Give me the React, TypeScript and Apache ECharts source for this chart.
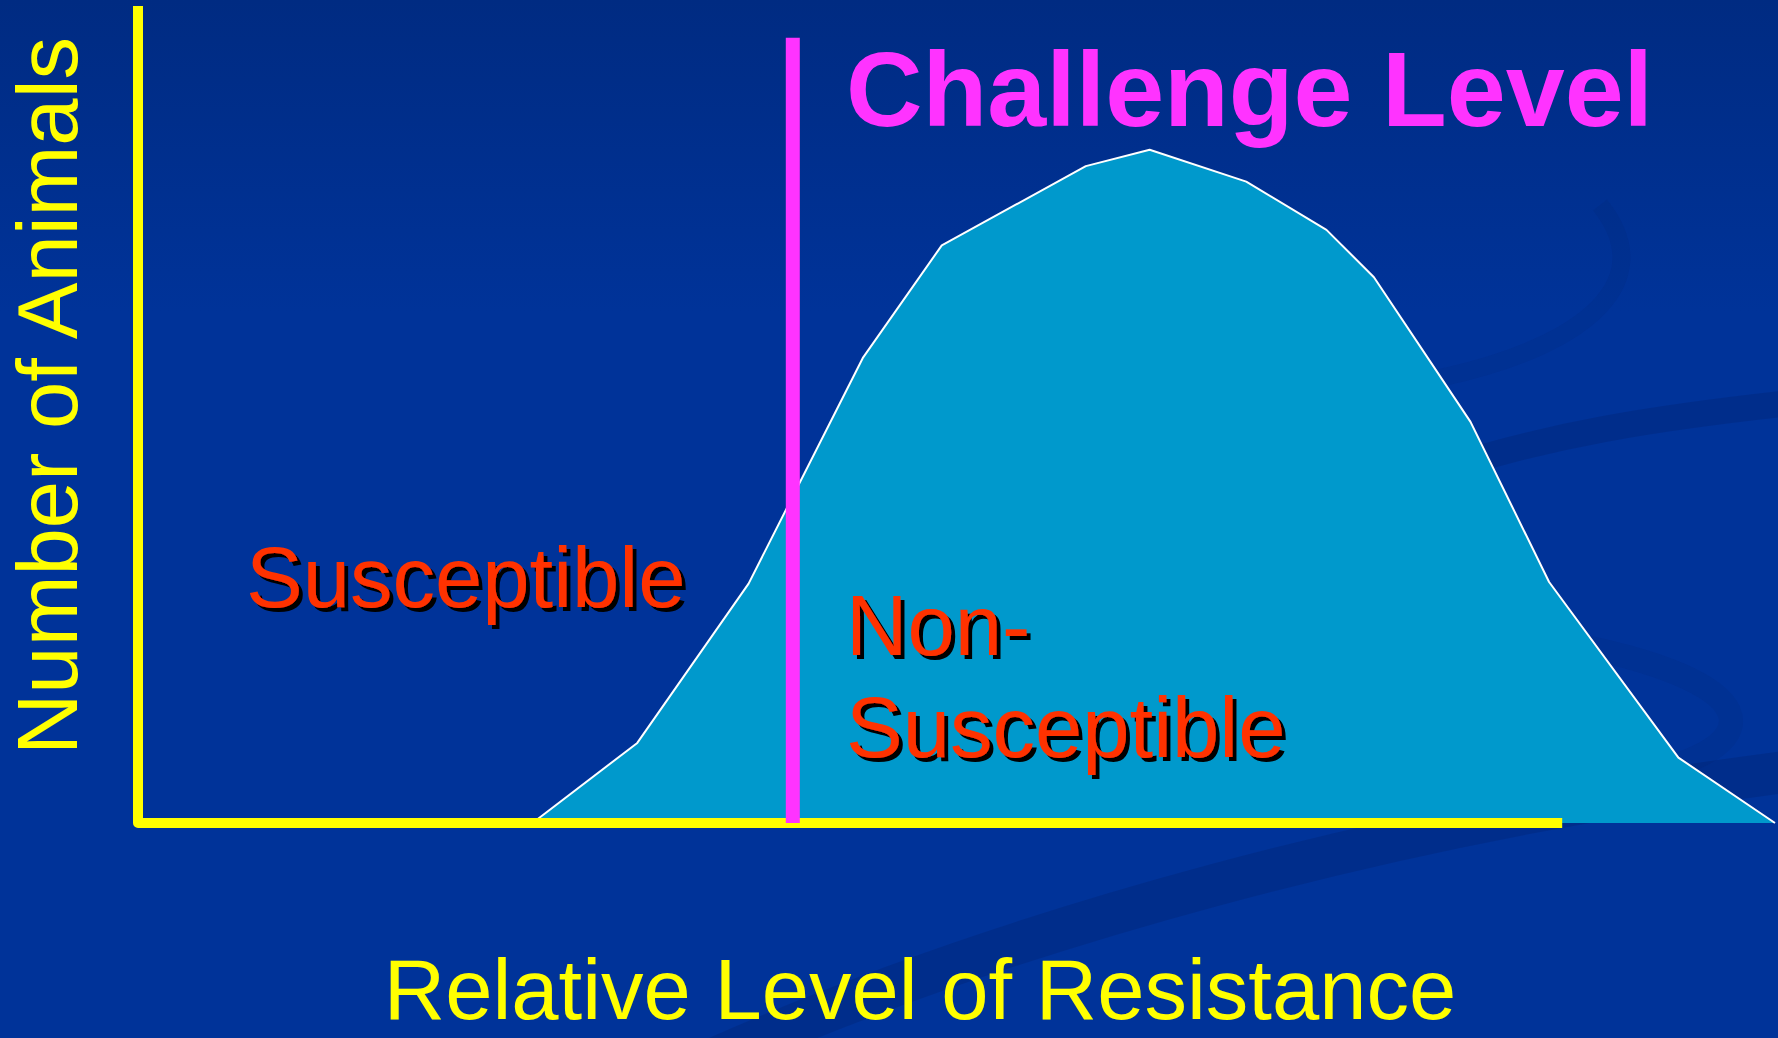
import React, { useEffect, useRef } from "react";
import * as echarts from "echarts";

// Distribution of resistance (x: relative level 0-100, y: number of animals 0-100)
const resistanceX = [24.1, 30.5, 37.3, 44.3, 49.1, 57.9, 61.8, 67.7, 72.6, 75.5, 81.4, 86.2, 94.1, 100];
const animalCounts = [0, 9.8, 29.3, 57.0, 70.7, 80.4, 82.4, 78.5, 72.6, 66.8, 49.1, 29.5, 8.0, 0];

// Axis frame (drawn in data units)
const axisFrame = [[0, 100], [0, 0], [87, 0]];
// Challenge level threshold
const challengeLevel = 40;
const challengeTop = 96.1;

const titleText = "Challenge Level";
const xAxisTitle = "Relative Level of Resistance";
const yAxisTitle = "Number of Animals";
const leftLabel = "Susceptible";
const rightLabel = ["Non-", "Susceptible"];

const FONT = "'Liberation Sans', Arial, Helvetica, sans-serif";

export default function App() {
  const ref = useRef<HTMLDivElement>(null);

  useEffect(() => {
    if (!ref.current) return;
    const chart = echarts.init(ref.current, undefined, { renderer: "svg" });

    const redStyle = {
      fill: "#FF3300",
      font: `85px ${FONT}`,
      textAlign: "left",
      verticalAlign: "middle",
      textShadowColor: "#000000",
      textShadowOffsetX: 4,
      textShadowOffsetY: 4,
      textShadowBlur: 0.5,
    };

    const swoosh = "rgba(0,20,80,0.18)";
    const swooshFaint = "rgba(0,20,80,0.08)";

    chart.setOption({
      animation: false,
      backgroundColor: {
        type: "linear",
        x: 0, y: 0, x2: 0, y2: 1,
        colorStops: [
          { offset: 0, color: "#002B82" },
          { offset: 0.3, color: "#003399" },
          { offset: 1, color: "#003399" },
        ],
      },
      grid: { left: 138, right: 3, top: 6, bottom: 215, containLabel: false },
      xAxis: { type: "value", min: 0, max: 100, show: false },
      yAxis: { type: "value", min: 0, max: 100, show: false },
      series: [
        {
          type: "line",
          data: resistanceX.map((x, i) => [x, animalCounts[i]]),
          symbol: "none",
          clip: false,
          z: 2,
          lineStyle: { color: "#FFFFFF", width: 2 },
          areaStyle: { color: "#0099CC", opacity: 1 },
        },
        {
          type: "line",
          data: axisFrame,
          symbol: "none",
          clip: false,
          z: 3,
          lineStyle: { color: "#FFFF00", width: 10, join: "round", cap: "butt" },
        },
        {
          type: "line",
          data: [[challengeLevel, 0], [challengeLevel, challengeTop]],
          symbol: "none",
          clip: false,
          z: 4,
          lineStyle: { color: "#FF33FF", width: 14, cap: "butt" },
        },
      ],
      graphic: [
        {
          type: "bezierCurve", z: 0, silent: true,
          shape: { x1: 700, y1: 1065, cpx1: 1000, cpy1: 930, cpx2: 1400, cpy2: 820, x2: 1800, y2: 770 },
          style: { stroke: swoosh, lineWidth: 42, fill: null },
        },
        {
          type: "bezierCurve", z: 0, silent: true,
          shape: { x1: 1440, y1: 470, cpx1: 1550, cpy1: 435, cpx2: 1650, cpy2: 418, x2: 1800, y2: 402 },
          style: { stroke: swoosh, lineWidth: 26, fill: null },
        },
        {
          type: "bezierCurve", z: 0, silent: true,
          shape: { x1: 1440, y1: 378, cpx1: 1590, cpy1: 345, cpx2: 1660, cpy2: 280, x2: 1600, y2: 205 },
          style: { stroke: swooshFaint, lineWidth: 18, fill: null },
        },
        {
          type: "bezierCurve", z: 0, silent: true,
          shape: { x1: 1560, y1: 642, cpx1: 1770, cpy1: 680, cpx2: 1770, cpy2: 745, x2: 1650, y2: 772 },
          style: { stroke: swooshFaint, lineWidth: 24, fill: null },
        },
        {
          type: "text", z: 100, x: 846, y: 89,
          style: {
            text: titleText,
            fill: "#FF33FF",
            font: `bold 106px ${FONT}`,
            textAlign: "left",
            verticalAlign: "middle",
          },
        },
        { type: "text", z: 100, x: 246, y: 577, style: { ...redStyle, text: leftLabel } },
        { type: "text", z: 100, x: 846, y: 625, style: { ...redStyle, text: rightLabel[0] } },
        { type: "text", z: 100, x: 846, y: 727, style: { ...redStyle, text: rightLabel[1] } },
        {
          type: "text", z: 100, x: 920, y: 989,
          style: {
            text: xAxisTitle,
            fill: "#FFFF00",
            font: `85px ${FONT}`,
            lineHeight: 85,
            textAlign: "center",
            verticalAlign: "middle",
          },
        },
        {
          type: "text", z: 100, x: 47, y: 396, rotation: Math.PI / 2,
          style: {
            text: yAxisTitle,
            fill: "#FFFF00",
            font: `85px ${FONT}`,
            textAlign: "center",
            verticalAlign: "middle",
          },
        },
      ],
    });

    return () => chart.dispose();
  }, []);

  return (
    <div
      ref={ref}
      style={{ position: "fixed", left: 0, top: 0, width: 1778, height: 1038 }}
    />
  );
}
